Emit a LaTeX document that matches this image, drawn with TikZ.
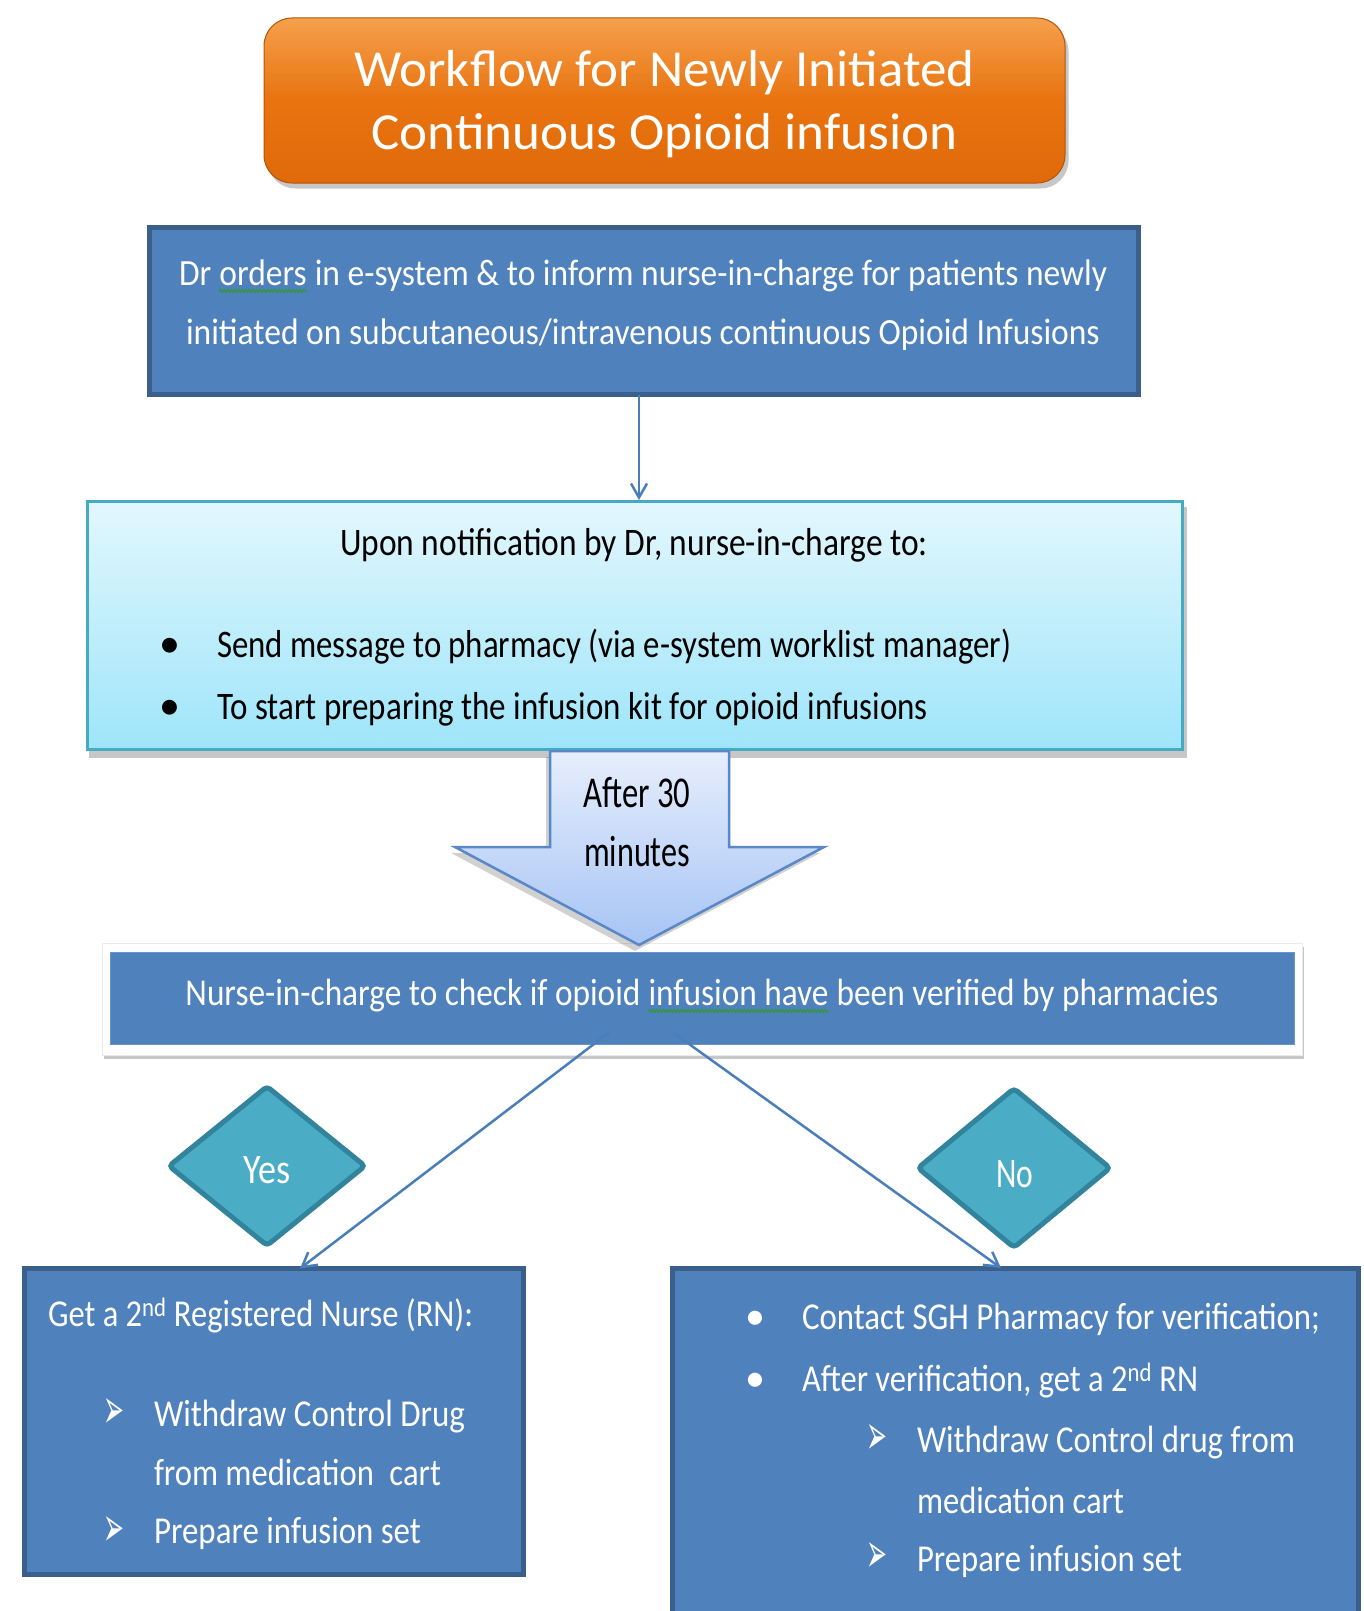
\documentclass[tikz,border=0pt]{standalone}
\usepackage{fontspec}
\setmainfont{Carlito}
\newfontfamily\dejavu{DejaVu Sans}
\usepackage{graphicx}
\usetikzlibrary{shapes.geometric,arrows.meta,decorations.pathmorphing}
\definecolor{bfill}{HTML}{4F81BD}
\definecolor{bborder}{HTML}{3A5F8B}
\definecolor{cyantop}{HTML}{E3F7FD}
\definecolor{cyanbot}{HTML}{9EE5FA}
\definecolor{cyanborder}{HTML}{46AAC5}
\definecolor{arrtop}{HTML}{E6EEFC}
\definecolor{arrbot}{HTML}{A6C4F5}
\definecolor{arrborder}{HTML}{5A87C5}
\definecolor{dfill}{HTML}{4BACC6}
\definecolor{dborder}{HTML}{31849B}
\definecolor{conncol}{HTML}{4A7EBB}
\definecolor{orangetop}{HTML}{F6A04C}
\definecolor{orangemid}{HTML}{E8730F}
\definecolor{orangebot}{HTML}{E06A0A}
\definecolor{spell}{HTML}{2E9A2E}
\newcommand\fitw[2]{\resizebox{#1pt}{\height}{#2}}
\newcommand\gwave[1]{\tikz[baseline=(gw.base)]{\node[inner sep=0pt,outer sep=0pt,text=white] (gw) {#1};
  \draw[spell, line width=1.1pt, decorate, decoration={snake, amplitude=1.5pt, segment length=4pt}]
  ([yshift=-6pt]gw.base west) -- ([yshift=-6pt]gw.base east);}}
\newcommand\fs[1]{\fontsize{#1pt}{#1pt}\selectfont}
\newcommand\arrowbullet{\resizebox{21pt}{30pt}{\dejavu ➢}}
\begin{document}
\begin{tikzpicture}[x=1pt,y=-1pt,
  tw/.style={inner sep=0pt, outer sep=0pt, text=white},
  tb/.style={inner sep=0pt, outer sep=0pt, text=black},
  bluebox/.style={draw=bborder, line width=5pt, fill=bfill, inner sep=0pt, outer sep=0pt},
  conn/.style={draw=conncol, line width=2.5pt, -{Straight Barb[length=14pt,width=16pt,line width=2.5pt]}},
  dia/.style={diamond, draw=dborder, line width=5pt, fill=dfill, inner sep=0pt, rounded corners=4pt},
  shadowbox/.style={fill=black, opacity=0.22, inner sep=0pt, outer sep=0pt},
]
\useasboundingbox (0,0) rectangle (1363,1611);
\fill[white] (0,0) rectangle (1363,1611);
\clip (0,0) rectangle (1363,1611);

% ---------- title ----------
\node[shadowbox, rounded corners=28pt, minimum width=801pt, minimum height=165pt] (titlesh) at (668,106) {};
\node[rounded corners=28pt, minimum width=801pt, minimum height=165pt, draw=orangebot!80!black, line width=1pt,
      top color=orangetop, bottom color=orangebot, middle color=orangemid, inner sep=0pt] (title) at (664.5,100.5) {};
\node[tw, anchor=base] (tl1) at (title.center |- 0,86) {\fs{52}\fitw{620}{Workflow for Newly Initiated}};
\node[tw, anchor=base] (tl2) at (title.center |- 0,149) {\fs{52}\fitw{586}{Continuous Opioid infusion}};

% ---------- box 1 ----------
\node[bluebox, minimum width=989pt, minimum height=167pt] (b1) at (644,311) {};
\node[tw, anchor=base] (b1l1) at (643,285) {\fs{37}\fitw{928}{Dr \gwave{orders} in e-system \& to inform nurse-in-charge for patients newly}};
\node[tw, anchor=base] (b1l2) at (643,344) {\fs{37}\fitw{914}{initiated on subcutaneous/intravenous continuous Opioid Infusions}};

% ---------- box 2 ----------
\node[shadowbox, minimum width=1098pt, minimum height=251pt] (b2sh) at (638,632) {};
\node[draw=cyanborder, line width=3pt, top color=cyantop, bottom color=cyanbot, inner sep=0pt,
      minimum width=1095pt, minimum height=248pt] (b2) at (635,625.5) {};
\node[tb, anchor=base] (b2h) at (634,555) {\fs{39}\fitw{588}{Upon notification by Dr, nurse-in-charge to:}};
\node[tb, anchor=base] (b2d1) at (170,657) {\fs{42}•};
\node[tb, anchor=base] (b2d2) at (170,719) {\fs{42}•};
\node[tb, anchor=base west] (b2i1) at (217,657) {\fs{39}\fitw{794}{Send message to pharmacy (via e-system worklist manager)}};
\node[tb, anchor=base west] (b2i2) at (217,719) {\fs{39}\fitw{711}{To start preparing the infusion kit for opioid infusions}};

% ---------- box 3 ----------
\node[shadowbox, minimum width=1200pt, minimum height=112pt] (b3sh) at (704,1003) {};
\node[fill=white, draw=black!8, line width=0.8pt, inner sep=0pt, minimum width=1200pt, minimum height=112pt] (b3p) at (702,999) {};
\node[fill=bfill, draw=bfill!85!white, line width=1pt, inner sep=0pt, minimum width=1184pt, minimum height=92pt] (b3) at (702,998) {};
\node[tw, anchor=base] (b3t) at (702,1005) {\fs{38}\fitw{1033}{Nurse-in-charge to check if opioid \gwave{infusion have} been verified by pharmacies}};

% ---------- block arrow ----------
\fill[black, opacity=0.18] (546,757) -- (725,757) -- (725,853) -- (820,853) -- (635,951) -- (451,853) -- (546,853) -- cycle;
\path[draw=arrborder, line width=2.5pt, line join=miter, top color=arrtop, bottom color=arrbot]
  (550,751) coordinate (arrTL) -- (729,751) -- (729,847) -- (824,847) -- (639,945) coordinate (arrTip)
  -- (455,847) -- (550,847) -- cycle;
\node[tb, anchor=base] (arrt1) at (637,807) {\fs{44}\fitw{107}{After 30}};
\node[tb, anchor=base] (arrt2) at (637,866) {\fs{44}\fitw{106}{minutes}};

% ---------- diamonds ----------
\node[dia, minimum width=198pt, minimum height=161pt] (yes) at (267,1166) {};
\node[dia, minimum width=194pt, minimum height=161pt] (no) at (1014,1168) {};
\node[tw, anchor=base] (yest) at (267,1183) {\fs{42}\fitw{47}{Yes}};
\node[tw, anchor=base] (not) at (1015,1187) {\fs{42}\fitw{37}{No}};

% ---------- bottom boxes ----------
\node[bluebox, minimum width=499pt, minimum height=306pt] (yb) at (274,1421.5) {};
\node[bluebox, minimum width=686pt, minimum height=394pt] (nb) at (1015.5,1465) {};

\node[tw, anchor=base west] (yb1) at (48,1326) {\fs{38}\fitw{425}{Get a 2\textsuperscript{nd} Registered Nurse (RN):}};
\node[tw, anchor=base west] (yba1) at (103,1428) {\arrowbullet};
\node[tw, anchor=base west] (yb2) at (154,1426) {\fs{38}\fitw{311}{Withdraw Control Drug}};
\node[tw, anchor=base west] (yb3) at (154,1485) {\fs{38}\fitw{287}{from medication\hspace{0.25em} cart}};
\node[tw, anchor=base west] (yba2) at (103,1546) {\arrowbullet};
\node[tw, anchor=base west] (yb4) at (154,1543) {\fs{38}\fitw{267}{Prepare infusion set}};

\node[tw, anchor=base] (nbd1) at (755,1329) {\fs{40}•};
\node[tw, anchor=base] (nbd2) at (755,1391) {\fs{40}•};
\node[tw, anchor=base west] (nb1) at (802,1329) {\fs{38}\fitw{518}{Contact SGH Pharmacy for verification;}};
\node[tw, anchor=base west] (nb2) at (802,1391) {\fs{38}\fitw{396}{After verification, get a 2\textsuperscript{nd} RN}};
\node[tw, anchor=base west] (nba1) at (866,1454) {\arrowbullet};
\node[tw, anchor=base west] (nb3) at (917,1452) {\fs{38}\fitw{378}{Withdraw Control drug from}};
\node[tw, anchor=base west] (nb4) at (917,1513) {\fs{38}\fitw{207}{medication cart}};
\node[tw, anchor=base west] (nba2) at (866,1572) {\arrowbullet};
\node[tw, anchor=base west] (nb5) at (917,1571) {\fs{38}\fitw{265}{Prepare infusion set}};

% ---------- connectors ----------
\draw[conn] ([xshift=-5pt]b1.south) -- ([xshift=-5pt]b1.south |- b2.north);
\draw[conn] ([xshift=-93pt,yshift=12pt]b3.south) -- ([xshift=26pt]yb.north);
\draw[conn] ([xshift=-29pt,yshift=12pt]b3.south) -- ([xshift=-14.5pt]nb.north);
\end{tikzpicture}
\end{document}
